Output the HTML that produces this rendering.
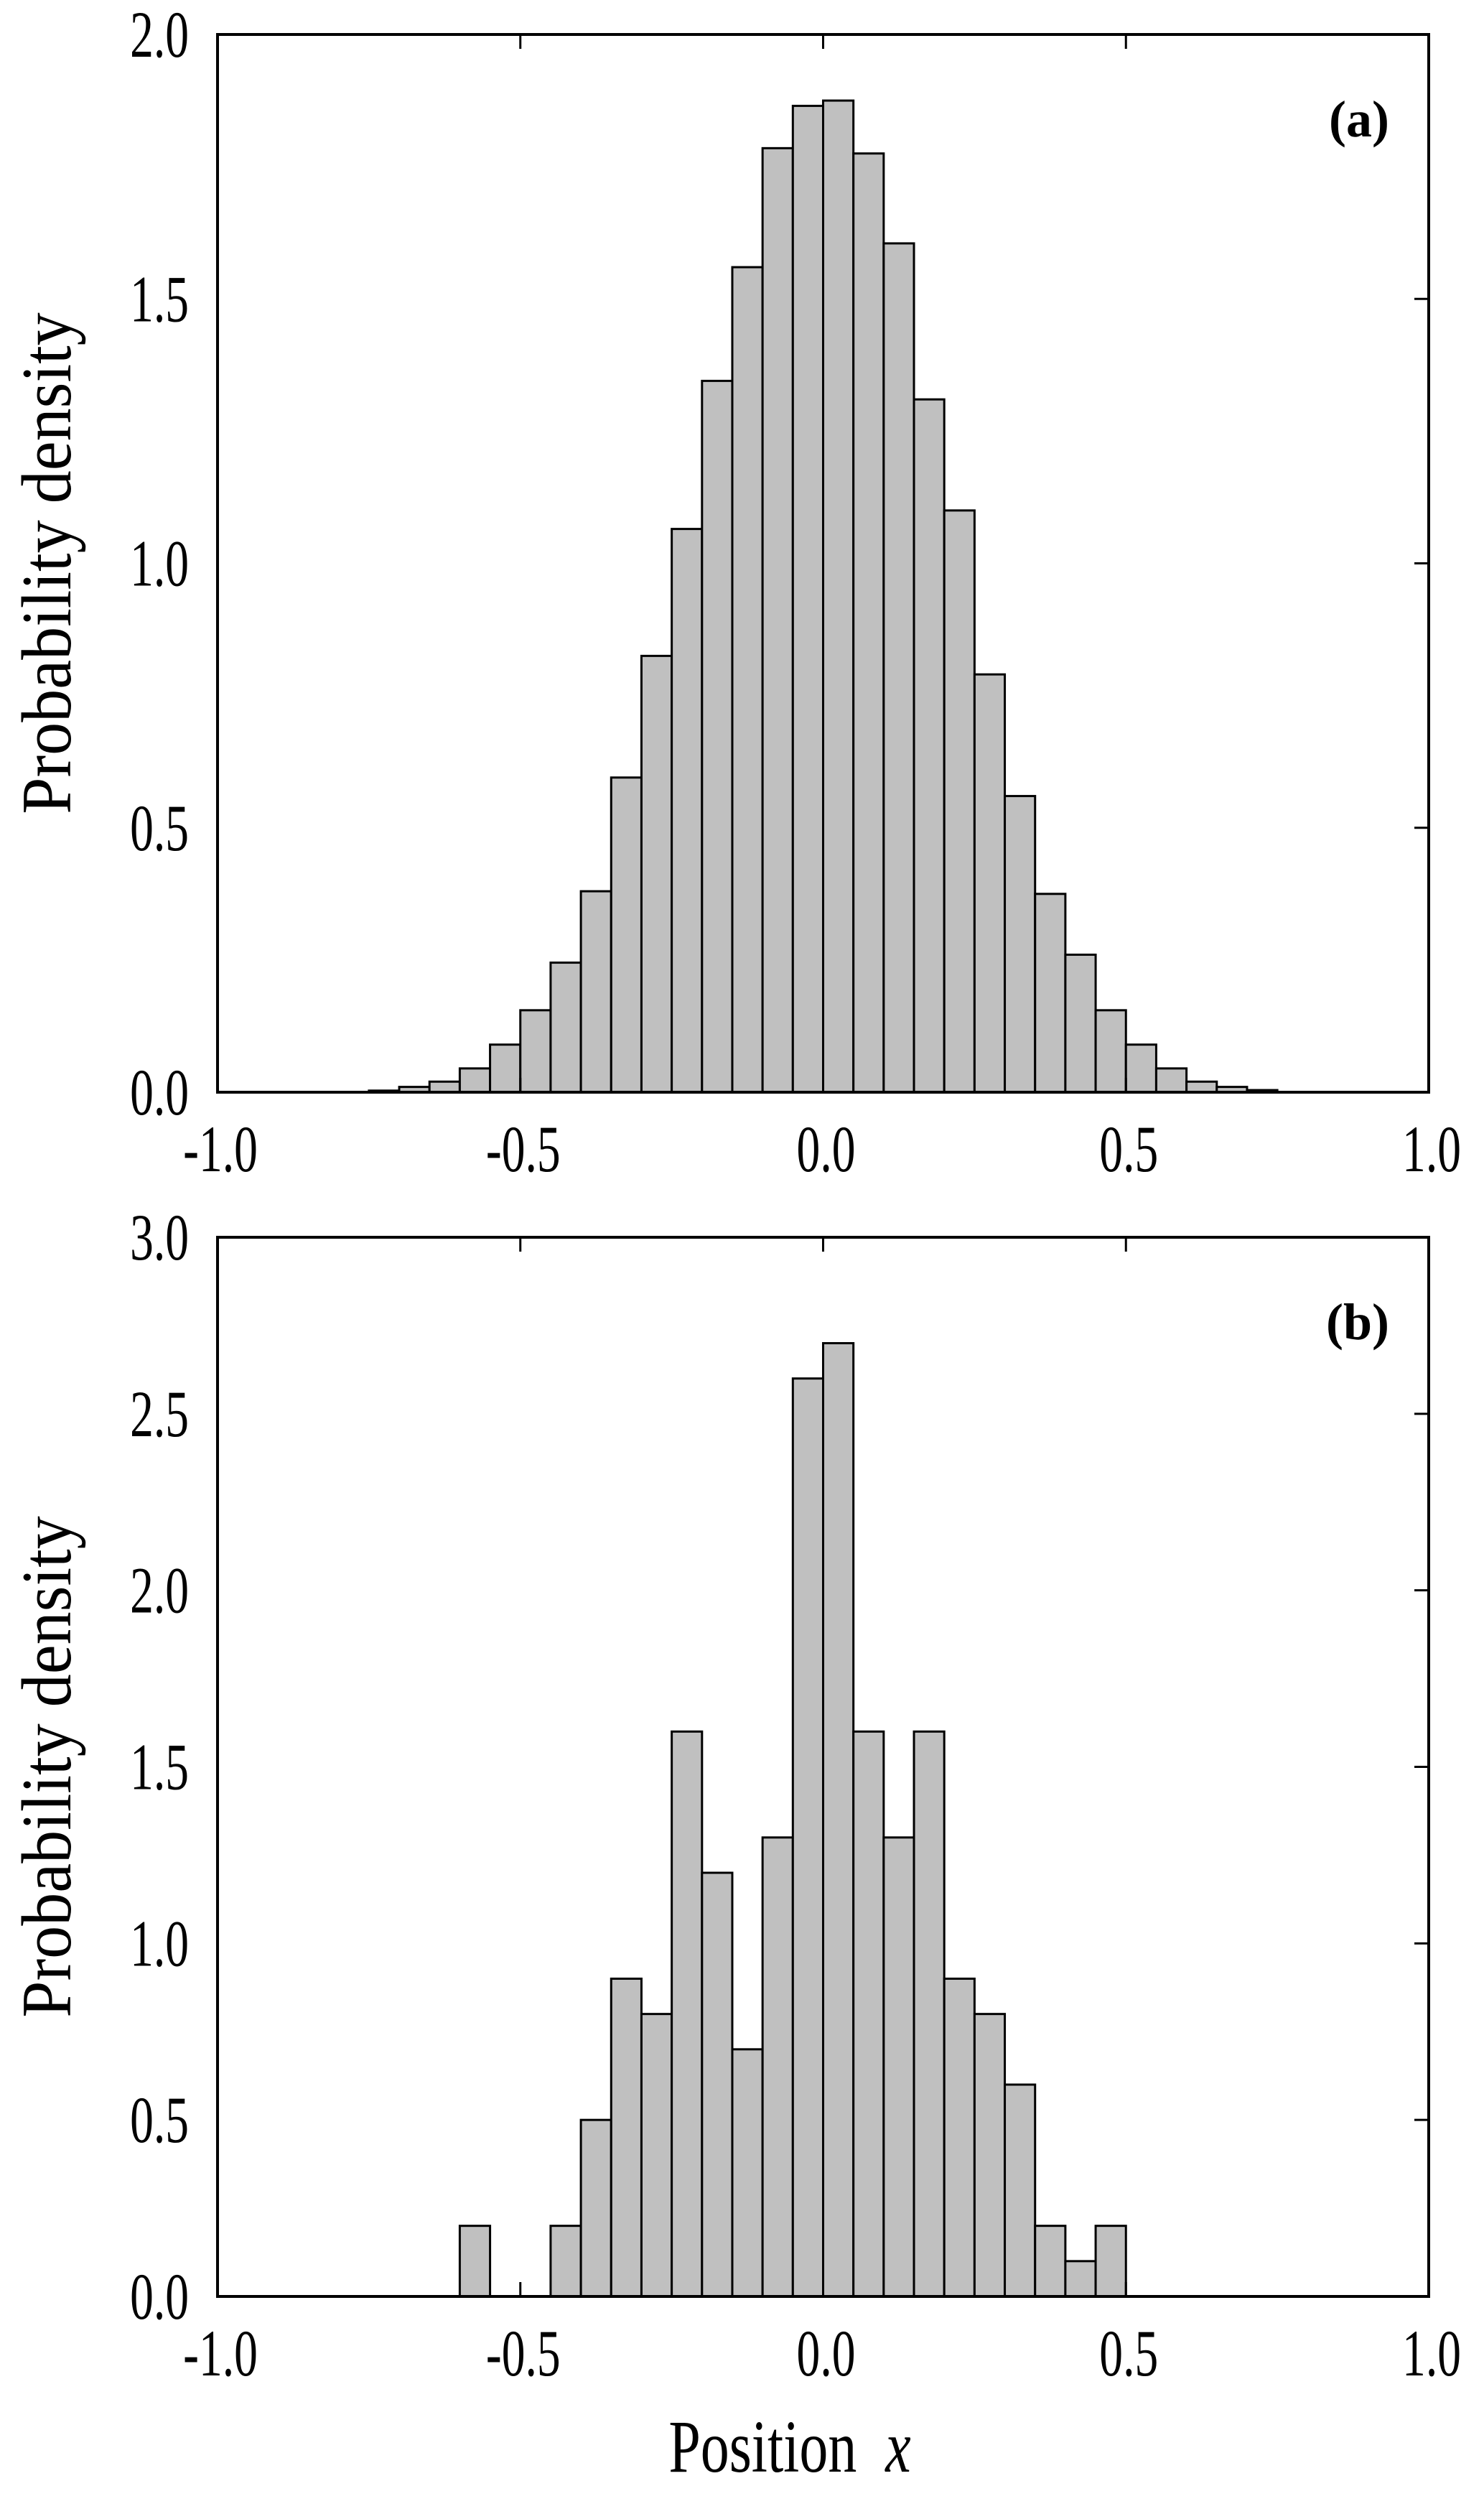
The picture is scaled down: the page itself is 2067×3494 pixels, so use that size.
<!DOCTYPE html>
<html><head><meta charset="utf-8"><style>
html,body{margin:0;padding:0;background:#fff;}
svg{display:block;}
text{font-family:"Liberation Serif","Times New Roman",serif;}
</style></head><body>
<svg id="fig" width="2067" height="3494" viewBox="0 0 2067 3494" xmlns="http://www.w3.org/2000/svg"></svg>
<script>
const binEdgesA = [-0.75,-0.7,-0.65,-0.6,-0.55,-0.5,-0.45,-0.4,-0.35,-0.3,-0.25,-0.2,-0.15,-0.1,-0.05,0,0.05,0.1,0.15,0.2,0.25,0.3,0.35,0.4,0.45,0.5,0.55,0.6,0.65,0.7];
const densityA = [0.003,0.01,0.02,0.045,0.09,0.155,0.245,0.38,0.595,0.825,1.065,1.345,1.56,1.785,1.865,1.875,1.775,1.605,1.31,1.10,0.79,0.56,0.375,0.26,0.155,0.09,0.045,0.02,0.01,0.004];
const binEdgesB = [-0.6,-0.45,-0.4,-0.35,-0.3,-0.25,-0.2,-0.15,-0.1,-0.05,0,0.05,0.1,0.15,0.2,0.25,0.3,0.35,0.4,0.45];
const densityB = [0.2,0.2,0.5,0.9,0.8,1.6,1.2,0.7,1.3,2.6,2.7,1.6,1.3,1.6,0.9,0.8,0.6,0.2,0.1,0.2];
const binWidth = 0.05;
const xTicks = [-1.0,-0.5,0.0,0.5,1.0];
const xTickLabels = ["-1.0","-0.5","0.0","0.5","1.0"];
const yTicksA = [0,0.5,1.0,1.5,2.0];
const yTickLabelsA = ["0.0","0.5","1.0","1.5","2.0"];
const yTicksB = [0,0.5,1.0,1.5,2.0,2.5,3.0];
const yTickLabelsB = ["0.0","0.5","1.0","1.5","2.0","2.5","3.0"];

const NS="http://www.w3.org/2000/svg";
const svg=document.getElementById('fig');
function mk(tag,attrs,parent){const e=document.createElementNS(NS,tag);for(const k in attrs)e.setAttribute(k,attrs[k]);(parent||svg).appendChild(e);return e;}

function panel(cfg){
  const g=mk('g',{});
  
  
  const L=303,R=1990,T=cfg.top,B=cfg.bottom;
  const xs=v=>L+(v+1)/2*(R-L);
  const ys=v=>B-v/cfg.ymax*(B-T);
  cfg.edges.forEach((e,i)=>{
    const r=mk('rect',{x:xs(e),y:ys(cfg.vals[i]),width:xs(e+binWidth)-xs(e),height:B-ys(cfg.vals[i]),fill:'#c0c0c0',stroke:'#000','stroke-width':3},g);
    
    
  });
  const frame=mk('rect',{x:L,y:T,width:R-L,height:B-T,fill:'none',stroke:'#000','stroke-width':4},g);
  
  
  xTicks.forEach((v,i)=>{
    const x=xs(v);
    if(i>0&&i<xTicks.length-1){
      mk('line',{x1:x,y1:B,x2:x,y2:B-20,stroke:'#000','stroke-width':3},g);
      mk('line',{x1:x,y1:T,x2:x,y2:T+20,stroke:'#000','stroke-width':3},g);
    }
    const t=mk('text',{x:0,y:0,transform:`translate(${x+4},${B+110}) scale(0.78,1.1)`,'text-anchor':'middle','font-size':84},g);
    t.textContent=xTickLabels[i];
    
    
  });
  cfg.yt.forEach((v,i)=>{
    const y=ys(v);
    if(i>0&&i<cfg.yt.length-1) mk('line',{x1:R,y1:y,x2:R-20,y2:y,stroke:'#000','stroke-width':3},g);
    const t=mk('text',{x:0,y:0,transform:`translate(263,${y+31}) scale(0.78,1.1)`,'text-anchor':'end','font-size':84},g);
    t.textContent=cfg.ytl[i];
    
    
  });
  const cy=(T+B)/2;
  const yl=mk('text',{x:0,y:0,transform:`translate(98,${cy}) rotate(-90) scale(0.98,1.05)`,'text-anchor':'middle','font-size':94},g);
  yl.textContent='Probability density';
  
  
  const pl=mk('text',{x:1935,y:T+142,'text-anchor':'end','font-size':72,'font-weight':'bold'},g);
  pl.textContent=cfg.label;
  
  
}
panel({name:'panel-a',top:48,bottom:1521,ymax:2,edges:binEdgesA,vals:densityA,yt:yTicksA,ytl:yTickLabelsA,label:'(a)'});
panel({name:'panel-b',top:1723,bottom:3198,ymax:3,edges:binEdgesB,vals:densityB,yt:yTicksB,ytl:yTickLabelsB,label:'(b)'});
const xl=mk('text',{x:0,y:0,transform:'translate(1100,3442) scale(0.85,1.1)','text-anchor':'middle','font-size':94});


xl.innerHTML='Position&#160;&#160;<tspan font-style="italic">x</tspan>';
</script>
</body></html>
